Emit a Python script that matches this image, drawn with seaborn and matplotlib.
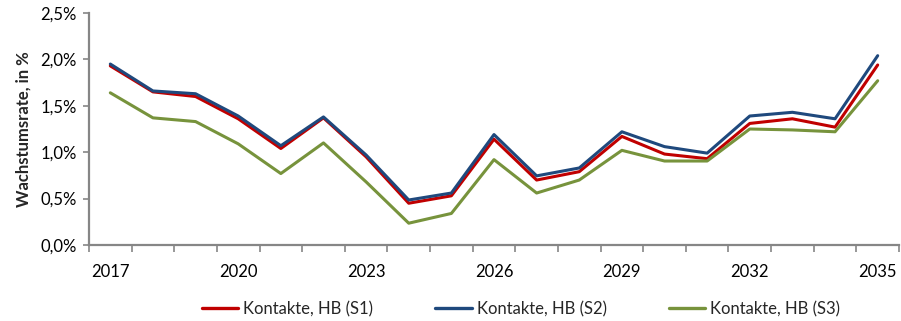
import numpy as np
import pandas as pd
import matplotlib
matplotlib.use("Agg")
import matplotlib.pyplot as plt
import seaborn as sns
from matplotlib.ticker import FixedLocator, FuncFormatter
from matplotlib.lines import Line2D

years = list(range(2017, 2036))
s1 = [1.93, 1.65, 1.60, 1.36, 1.04, 1.37, 0.95, 0.45, 0.53, 1.14, 0.70, 0.79,
      1.17, 0.98, 0.93, 1.31, 1.36, 1.27, 1.94]
s2 = [1.95, 1.66, 1.63, 1.39, 1.07, 1.38, 0.97, 0.485, 0.56, 1.19, 0.745, 0.83,
      1.22, 1.06, 0.99, 1.39, 1.43, 1.36, 2.04]
s3 = [1.64, 1.37, 1.33, 1.09, 0.77, 1.10, 0.68, 0.235, 0.34, 0.92, 0.56, 0.70,
      1.02, 0.905, 0.905, 1.25, 1.24, 1.22, 1.77]
series_names = ["Kontakte, HB (S1)", "Kontakte, HB (S2)", "Kontakte, HB (S3)"]
colors = ["#C00000", "#1F497D", "#77933C"]
y_ticks = [0.0, 0.5, 1.0, 1.5, 2.0, 2.5]
x_labels = [2017, 2020, 2023, 2026, 2029, 2032, 2035]

sns.set_theme(style="white")
plt.rcParams["font.family"] = ["Lato", "DejaVu Sans"]

rows = []
for name, vals in zip(series_names, [s1, s2, s3]):
    for i, (yr, v) in enumerate(zip(years, vals)):
        rows.append({"idx": i, "year": yr, "value": v, "series": name})
df = pd.DataFrame(rows)

fig = plt.figure(figsize=(9.01, 3.21), dpi=100)
ax = fig.add_axes([89 / 901, 1 - 245 / 321, (899 - 89) / 901, (245 - 13) / 321])

sns.lineplot(data=df, x="idx", y="value", hue="series", palette=colors,
             hue_order=series_names, linewidth=2.2, ax=ax, legend=False)

ax.set_xlim(-0.5, len(years) - 0.5)
ax.set_ylim(0, 2.5)
ax.yaxis.set_major_locator(FixedLocator(y_ticks))
ax.yaxis.set_major_formatter(FuncFormatter(lambda v, p: f"{v:.1f}%".replace(".", ",")))

label_pos = [years.index(y) for y in x_labels]
ax.xaxis.set_major_locator(FixedLocator(label_pos))
ax.set_xticklabels([str(y) for y in x_labels])
ax.xaxis.set_minor_locator(FixedLocator(np.arange(-0.5, len(years), 1.0)))
ax.tick_params(axis="x", which="major", length=0, pad=14, labelsize=12, colors="#000000")
ax.tick_params(axis="x", which="minor", length=5, width=1.2, color="#868686", direction="out")
ax.tick_params(axis="y", which="major", length=4, width=1.2, color="#868686", direction="out",
               labelsize=12, pad=5, labelcolor="#000000")
ax.xaxis.set_ticks_position("bottom")
ax.yaxis.set_ticks_position("left")

for side in ["top", "right"]:
    ax.spines[side].set_visible(False)
for side in ["left", "bottom"]:
    ax.spines[side].set_color("#868686")
    ax.spines[side].set_linewidth(1.6)

ax.set_xlabel("")
ax.set_ylabel("Wachstumsrate, in %", fontsize=12, fontweight="bold", labelpad=6)
ax.grid(False)

handles = [Line2D([0], [0], color=c, lw=2.4) for c in colors]
fig.legend(handles, series_names, loc="center", bbox_to_anchor=(521 / 901, 1 - 309 / 321),
           ncol=3, frameon=False, fontsize=12, handlelength=2.2, handletextpad=0.3,
           columnspacing=3.7)

fig.savefig("out.png", dpi=100)
